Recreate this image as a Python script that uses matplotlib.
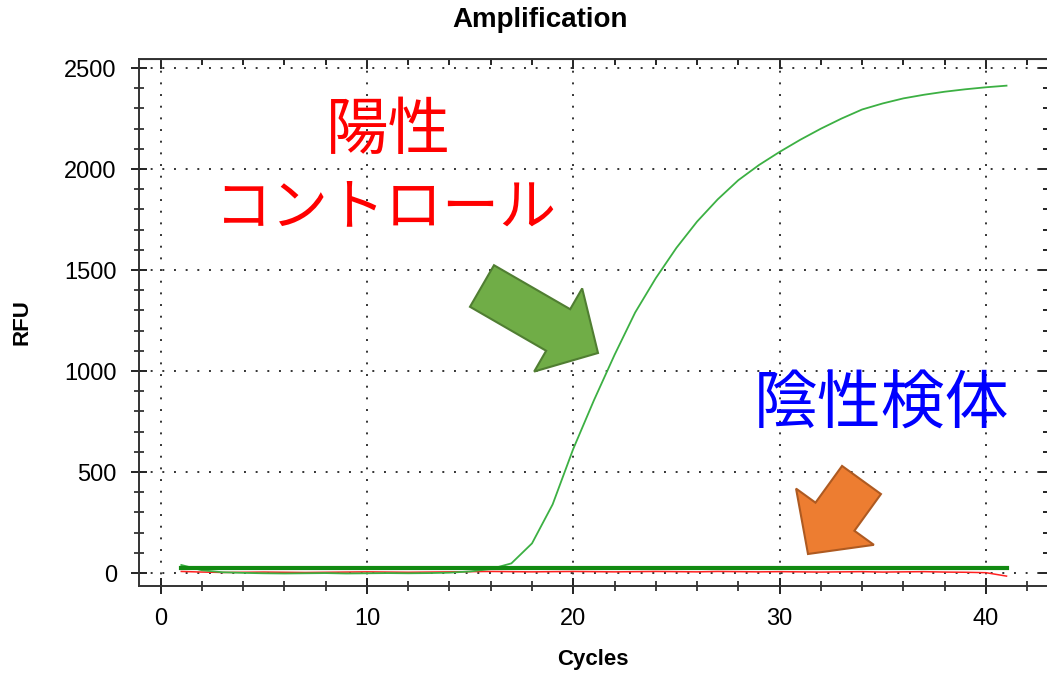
import matplotlib
matplotlib.use("Agg")
import matplotlib.pyplot as plt
import matplotlib.patches as mpatches
from matplotlib.ticker import MultipleLocator

plt.rcParams['font.family'] = ['Liberation Sans', 'DejaVu Sans']

# data
cycles = list(range(1, 42))
positive = [40, 14, 4, 1, -1, -2, -1, 0, -2, -1,
            0, -1, 0, 2, 8, 20, 48, 147, 340, 615,
            855, 1080, 1290, 1460, 1610, 1740, 1850, 1945, 2020, 2085,
            2145, 2200, 2250, 2295, 2325, 2350, 2368, 2383, 2395, 2405,
            2413]
negative = [8, 5, 3, 4, 5, 4, 3, 4, 5, 6,
            5, 4, 5, 6, 7, 8, 7, 6, 7, 8,
            7, 6, 7, 8, 7, 6, 8, 7, 6, 7,
            6, 5, 6, 7, 5, 6, 7, 5, 4, 2,
            -15]
threshold_x = [1, 41]
threshold_y = [26, 26]

W, H = 1047, 673
fig = plt.figure(figsize=(W / 100, H / 100), dpi=100)
ax = fig.add_axes([139 / W, 1 - 586 / H, 910 / W, 527 / H])

ax.plot(cycles, negative, color='#ff2020', lw=1.1, zorder=3)
ax.plot(cycles, positive, color='#3cb043', lw=1.3, zorder=4)
ax.plot(threshold_x, threshold_y, color='#128a12', lw=3, zorder=5)

ax.set_xlim(-1.05, 43.06)
ax.set_ylim(-64, 2545)
ax.xaxis.set_major_locator(MultipleLocator(10))
ax.xaxis.set_minor_locator(MultipleLocator(2))
ax.yaxis.set_major_locator(MultipleLocator(500))
ax.yaxis.set_minor_locator(MultipleLocator(100))
ax.grid(True, which='major', color='#333333', linestyle=(0, (1, 5)), lw=1.4)
ax.tick_params(which='major', direction='inout', length=12, width=1.4,
               labelsize=17, pad=10, color='#222222')
ax.tick_params(which='minor', direction='inout', length=7, width=1.2, color='#222222')
for s in ax.spines.values():
    s.set_linewidth(1.4)
    s.set_color('#333333')

# ticks pointing inward on the top and right sides
top = ax.secondary_xaxis('top')
top.xaxis.set_major_locator(MultipleLocator(10))
top.xaxis.set_minor_locator(MultipleLocator(2))
top.tick_params(which='both', direction='in', labeltop=False, width=1.2)
top.tick_params(which='major', length=7)
top.tick_params(which='minor', length=4)
right = ax.secondary_yaxis('right')
right.yaxis.set_major_locator(MultipleLocator(500))
right.yaxis.set_minor_locator(MultipleLocator(100))
right.tick_params(which='both', direction='in', labelright=False, width=1.2)
right.tick_params(which='major', length=7)
right.tick_params(which='minor', length=4)

fig.text(540 / W, 1 - 20 / H, 'Amplification', ha='center', va='center',
         fontsize=20, fontweight='bold')
fig.text(593 / W, 1 - 660 / H, 'Cycles', ha='center', va='center',
         fontsize=16, fontweight='bold')
fig.text(22 / W, 1 - 322 / H, 'RFU', ha='center', va='center', rotation=90,
         fontsize=16, fontweight='bold')

# annotation layer in pixel coordinates
ov = fig.add_axes([0, 0, 1, 1], zorder=10)
ov.set_xlim(0, W)
ov.set_ylim(H, 0)
ov.axis('off')

jp = ['Noto Sans CJK JP', 'DejaVu Sans']
ov.text(388, 131, '陽性', color='#ff0000', fontsize=45, family=jp,
        ha='center', va='center')
ov.text(386, 208, 'コントロール', color='#ff0000', fontsize=41, family=jp,
        ha='center', va='center')
ov.text(882, 405, '陰性検体', color='#0000ff', fontsize=46, family=jp,
        ha='center', va='center')

ov.add_patch(mpatches.FancyArrow(482, 286, 116, 67, width=48, head_width=96,
                                 head_length=46, length_includes_head=True,
                                 facecolor='#70ad47', edgecolor='#507e32', lw=1.5))
ov.add_patch(mpatches.FancyArrow(861.5, 480, -53.5, 74, width=48, head_width=96,
                                 head_length=46, length_includes_head=True,
                                 facecolor='#ed7d31', edgecolor='#ae5a21', lw=1.5))

fig.savefig('out.png', dpi=100)
